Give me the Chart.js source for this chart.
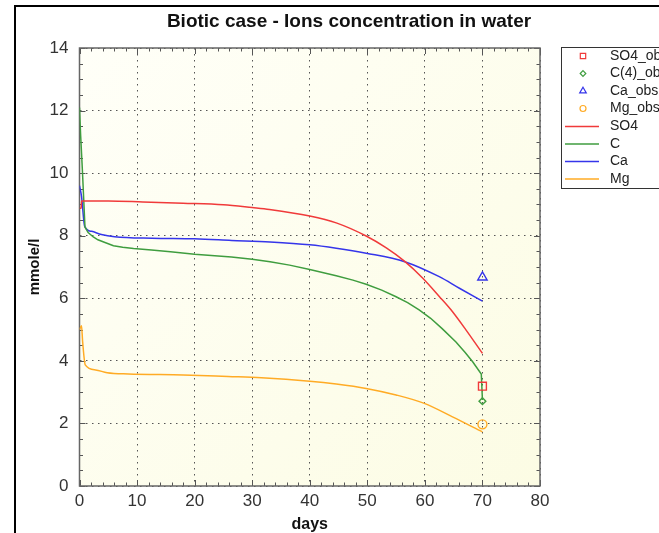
<!DOCTYPE html>
<html><head><meta charset="utf-8">
<script src="https://cdn.jsdelivr.net/npm/chart.js@4.4.1/dist/chart.umd.min.js"></script>
<style>
html,body{margin:0;padding:0;background:#fff;}
#wrap{position:relative;width:659px;height:533px;overflow:hidden;}
#frame{position:absolute;left:14px;top:5px;width:700px;height:600px;border-left:2px solid #000;border-top:2px solid #000;}
canvas{position:absolute;left:0;top:0;}
</style></head><body>
<div id="wrap"><div id="frame"></div><canvas id="c" width="659" height="533"></canvas></div>
<script>
const chartTitle = 'Biotic case - Ions concentration in water';
const xTitle = 'days';
const yTitle = 'mmole/l';
const xTickValues = [0, 10, 20, 30, 40, 50, 60, 70, 80];
const yTickValues = [0, 2, 4, 6, 8, 10, 12, 14];
const seriesNames = ['SO4_obs', 'C(4)_obs', 'Ca_obs', 'Mg_obs', 'SO4', 'C', 'Ca', 'Mg'];

const obsDays = [70];
const so4Obs = [3.19];
const cObs = [2.71];
const caObs = [6.67];
const mgObs = [1.97];

const so4Days = [0, 0.3, 0.35, 5, 11, 18, 25, 30, 33, 40, 44.6, 49.8, 53.3, 56.5, 59.6, 62.5, 64.5, 67.1, 70];
const so4Vals = [8.88, 8.88, 9.11, 9.11, 9.08, 9.04, 8.99, 8.9, 8.84, 8.63, 8.41, 7.99, 7.61, 7.18, 6.65, 6.06, 5.64, 5.0, 4.24];

const cDays = [0, 0.2, 0.5, 0.95, 1.5, 2.4, 3.2, 4.2, 5.9, 7.5, 9.4, 12.5, 15.8, 20, 26.4, 30, 33.1, 36.5, 40, 44.6, 47.5, 49.8, 52.5, 55, 57, 59, 61, 63, 65.4, 67, 68.3, 69.8, 70];
const cVals = [12.1, 11.2, 10.1, 8.28, 8.1, 7.96, 7.87, 7.8, 7.68, 7.63, 7.59, 7.54, 7.49, 7.41, 7.32, 7.25, 7.17, 7.06, 6.92, 6.72, 6.58, 6.45, 6.26, 6.05, 5.86, 5.63, 5.36, 5.03, 4.6, 4.27, 3.97, 3.58, 2.75];

const caDays = [0, 0.35, 0.9, 2.1, 3.8, 6.1, 12.6, 20, 26.4, 33.1, 40, 44.6, 49.8, 56.5, 62.5, 66, 70];
const caVals = [9.6, 9.26, 8.3, 8.14, 8.04, 7.97, 7.92, 7.9, 7.85, 7.8, 7.71, 7.6, 7.44, 7.17, 6.69, 6.32, 5.91];

const mgDays = [0, 0.35, 0.55, 1, 2.8, 4.8, 8.5, 18, 25.8, 31.6, 40, 44.6, 49.8, 55, 59.9, 64.8, 70];
const mgVals = [5.0, 5.12, 4.6, 3.87, 3.71, 3.62, 3.58, 3.55, 3.5, 3.46, 3.35, 3.26, 3.12, 2.91, 2.64, 2.21, 1.73];

const FONT = '"Liberation Sans", Arial, Helvetica, sans-serif';
const pts = (xs, ys) => xs.map((x, i) => ({x: x, y: ys[i]}));

const RED = '#f03a3a', GREEN = '#3f9d3f', BLUE = '#3535ea', ORANGE = '#ffab25';

function obsSet(label, ys, color, style, r) {
  return {label, data: pts(obsDays, ys), showLine: false, pointStyle: style, pointRadius: r,
    pointBorderColor: color, pointBackgroundColor: 'rgba(0,0,0,0)', pointBorderWidth: 1.4,
    borderColor: color, backgroundColor: 'rgba(0,0,0,0)'};
}
function lineSet(label, xs, ys, color, smooth) {
  const d = {label, data: pts(xs, ys), showLine: true, pointRadius: 0, borderColor: color,
    borderWidth: 1.5, tension: 0, backgroundColor: color};
  if (smooth) d.cubicInterpolationMode = 'monotone';
  return d;
}

const datasets = [
  obsSet(seriesNames[0], so4Obs, RED, 'rect', 5.6),
  obsSet(seriesNames[1], cObs, GREEN, 'rectRot', 3.4),
  obsSet(seriesNames[2], caObs, BLUE, 'triangle', 5.4),
  obsSet(seriesNames[3], mgObs, ORANGE, 'circle', 4.5),
  lineSet(seriesNames[4], so4Days, so4Vals, RED, true),
  lineSet(seriesNames[5], cDays, cVals, GREEN, false),
  lineSet(seriesNames[6], caDays, caVals, BLUE, true),
  lineSet(seriesNames[7], mgDays, mgVals, ORANGE, true)
];

function drawMarker(ctx, style, x, y, r) {
  ctx.beginPath();
  if (style === 'rect') { const s = r * Math.SQRT1_2; ctx.rect(x - s, y - s, 2 * s, 2 * s); }
  else if (style === 'rectRot') { ctx.moveTo(x, y - r); ctx.lineTo(x + r, y); ctx.lineTo(x, y + r); ctx.lineTo(x - r, y); ctx.closePath(); }
  else if (style === 'triangle') {
    ctx.moveTo(x, y - r); ctx.lineTo(x + r * 0.866, y + r * 0.5); ctx.lineTo(x - r * 0.866, y + r * 0.5); ctx.closePath();
  } else { ctx.arc(x, y, r, 0, Math.PI * 2); }
  ctx.stroke();
}

const decor = {
  id: 'decor',
  beforeDraw(chart) {
    const {ctx, chartArea: a} = chart;
    ctx.save();
    const g = ctx.createLinearGradient(a.left, a.top, a.right, a.bottom);
    g.addColorStop(0, '#fffff8');
    g.addColorStop(1, '#fcfce4');
    ctx.fillStyle = g;
    ctx.fillRect(a.left, a.top, a.right - a.left, a.bottom - a.top);
    ctx.restore();
  },
  beforeDatasetsDraw(chart) {
    const {ctx, chartArea: a, scales} = chart;
    ctx.save();
    ctx.strokeStyle = '#555';
    ctx.lineWidth = 1;
    for (let d = 0; d <= 80; d += 2) {
      const x = Math.round(scales.x.getPixelForValue(d)) + 0.5;
      const L = d % 10 === 0 ? 6 : 3.5;
      ctx.beginPath(); ctx.moveTo(x, a.bottom); ctx.lineTo(x, a.bottom - L); ctx.stroke();
      ctx.beginPath(); ctx.moveTo(x, a.top); ctx.lineTo(x, a.top + L); ctx.stroke();
    }
    for (let v = 0; v <= 14.001; v += 0.5) {
      const y = Math.round(scales.y.getPixelForValue(v)) + 0.5;
      const L = Math.abs(v % 2) < 1e-6 ? 6 : 3.5;
      ctx.beginPath(); ctx.moveTo(a.left, y); ctx.lineTo(a.left + L, y); ctx.stroke();
      ctx.beginPath(); ctx.moveTo(a.right, y); ctx.lineTo(a.right - L, y); ctx.stroke();
    }
    ctx.strokeStyle = '#666';
    ctx.lineWidth = 1.5;
    ctx.strokeRect(a.left, a.top, a.right - a.left, a.bottom - a.top);
    ctx.restore();
  },
  afterDraw(chart) {
    const {ctx} = chart;
    ctx.save();
    ctx.fillStyle = '#111';
    ctx.font = 'bold 19px ' + FONT;
    ctx.textAlign = 'center';
    ctx.textBaseline = 'middle';
    ctx.fillText(chartTitle, 349, 22);
    ctx.fillStyle = '#fff';
    ctx.fillRect(561.5, 47.5, 130, 141);
    ctx.strokeStyle = '#333';
    ctx.lineWidth = 1;
    ctx.strokeRect(561.5, 47.5, 130, 141);
    const ds = chart.data.datasets;
    const legR = {rect: 3.8, rectRot: 2.8, triangle: 3.8, circle: 3};
    ds.forEach((d, i) => {
      const y = 56 + i * 17.5 + (i >= 4 ? 0.5 : 0);
      if (d.showLine) {
        ctx.strokeStyle = d.borderColor; ctx.lineWidth = 1.5;
        ctx.beginPath(); ctx.moveTo(565, y); ctx.lineTo(599, y); ctx.stroke();
      } else {
        ctx.strokeStyle = d.pointBorderColor; ctx.lineWidth = 1.2;
        drawMarker(ctx, d.pointStyle, 583, y, legR[d.pointStyle]);
      }
      ctx.fillStyle = '#222';
      ctx.font = '14px ' + FONT;
      ctx.textAlign = 'left';
      ctx.textBaseline = 'middle';
      ctx.fillText(d.label, 610, y);
    });
    ctx.restore();
  }
};

new Chart(document.getElementById('c'), {
  type: 'scatter',
  data: {datasets},
  options: {
    responsive: false,
    animation: false,
    layout: {padding: {left: 27, top: 48, right: 119, bottom: 0}},
    plugins: {legend: {display: false}, title: {display: false}, tooltip: {enabled: false}},
    scales: {
      x: {
        type: 'linear', min: 0, max: 80,
        afterFit: s => { s.height = 47; },
        afterBuildTicks: s => { s.ticks = xTickValues.map(v => ({value: v})); },
        ticks: {stepSize: 10, autoSkip: false, maxRotation: 0, padding: 5, color: '#333', font: {family: FONT, size: 17}},
        grid: {color: '#555', lineWidth: 1, drawTicks: false},
        border: {display: false, dash: [1.5, 4.5]},
        title: {display: true, text: xTitle, color: '#111', font: {family: FONT, size: 16, weight: 'bold', lineHeight: 1}, padding: 0}
      },
      y: {
        type: 'linear', min: 0, max: 14,
        afterFit: s => { s.width = 52.5; },
        afterBuildTicks: s => { s.ticks = yTickValues.map(v => ({value: v})); },
        ticks: {stepSize: 2, padding: 11, color: '#333', font: {family: FONT, size: 17}},
        grid: {color: '#555', lineWidth: 1, drawTicks: false},
        border: {display: false, dash: [1.5, 4.5]},
        title: {display: true, text: yTitle, color: '#111', font: {family: FONT, size: 15, weight: 'bold', lineHeight: 1}, padding: 0}
      }
    }
  },
  plugins: [decor]
});
</script>
</body></html>
